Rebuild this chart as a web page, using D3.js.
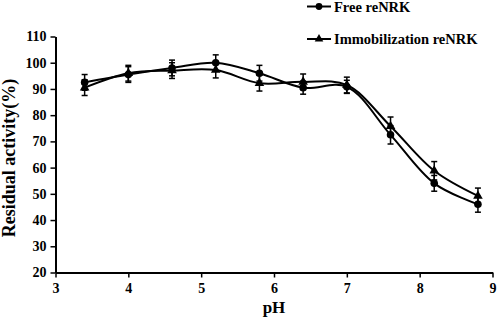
<!DOCTYPE html>
<html><head><meta charset="utf-8">
<script src="https://cdn.jsdelivr.net/npm/d3@7"></script>
<style>body{margin:0;background:#fff}svg{display:block}svg text{font-family:"Liberation Serif","Times New Roman",Times,serif !important;font-weight:bold}</style>
</head><body>
<svg id="c" width="498" height="322"></svg>
<script>
const pH = [3.4, 4.0, 4.6, 5.2, 5.8, 6.4, 7.0, 7.6, 8.2, 8.8];
const freeVals = [92.5, 95.5, 98, 100, 96, 90.5, 90.8, 72.5, 54, 46];
const freeErr = [3, 3, 3, 3, 3, 2.5, 2.5, 3.5, 3, 3];
const immoVals = [90.5, 96, 97, 97.2, 92.2, 92.7, 91.5, 75.8, 58.8, 49.2];
const immoErr = [3, 3, 3, 3, 3, 3, 3, 3.5, 3.5, 3];
const xTicks = [3, 4, 5, 6, 7, 8, 9];
const yTicks = [20, 30, 40, 50, 60, 70, 80, 90, 100, 110];
const seriesNames = ["Free reNRK", "Immobilization reNRK"];

const svg = d3.select("#c");
const x = d3.scaleLinear().domain([3, 9]).range([55.5, 492.5]);
const y = d3.scaleLinear().domain([20, 110]).range([272.5, 36.5]);

// axes
const xAxis = svg.append("g").attr("transform", `translate(0,${y(20)})`)
  .call(d3.axisBottom(x).tickValues(xTicks).tickFormat(d3.format("d")).tickSize(5).tickSizeOuter(0).tickPadding(6));
const yAxis = svg.append("g").attr("transform", `translate(${x(3)},0)`)
  .call(d3.axisLeft(y).tickValues(yTicks).tickFormat(d3.format("d")).tickSize(5).tickSizeOuter(0).tickPadding(4));
[xAxis, yAxis].forEach(a => {
  a.select(".domain").attr("stroke", "#000").attr("stroke-width", 2);
  a.selectAll(".tick line").attr("stroke", "#000").attr("stroke-width", 1.5);
  a.selectAll("text").attr("font-size", 14).attr("fill", "#000");
});

// axis titles
svg.append("text").attr("x", x(6)).attr("y", 313).attr("text-anchor", "middle")
  .attr("font-size", 17).text("pH");
svg.append("text").attr("transform", `translate(15,158) rotate(-90)`)
  .attr("text-anchor", "middle").attr("font-size", 18).text("Residual activity(%)");

const line = d3.line().x(d => x(d[0])).y(d => y(d[1])).curve(d3.curveCatmullRom.alpha(0.5));
const series = [
  {vals: freeVals, err: freeErr, shape: d3.symbolCircle},
  {vals: immoVals, err: immoErr, shape: d3.symbolTriangle}
];
const sizes = [45, 40];
series.forEach((s, i) => {
  const pts = pH.map((p, j) => [p, s.vals[j]]);
  svg.append("path").attr("d", line(pts)).attr("fill", "none").attr("stroke", "#000").attr("stroke-width", 2);
  const g = svg.append("g");
  pts.forEach((p, j) => {
    const cx = x(p[0]), top = y(p[1] + s.err[j]), bot = y(p[1] - s.err[j]);
    g.append("line").attr("x1", cx).attr("x2", cx).attr("y1", top).attr("y2", bot).attr("stroke", "#000").attr("stroke-width", 1.5);
    g.append("line").attr("x1", cx - 3).attr("x2", cx + 3).attr("y1", top).attr("y2", top).attr("stroke", "#000").attr("stroke-width", 1.5);
    g.append("line").attr("x1", cx - 3).attr("x2", cx + 3).attr("y1", bot).attr("y2", bot).attr("stroke", "#000").attr("stroke-width", 1.5);
  });
  g.selectAll("path.m").data(pts).enter().append("path").attr("class", "m")
    .attr("d", d3.symbol().type(s.shape).size(sizes[i]))
    .attr("transform", d => `translate(${x(d[0])},${y(d[1])})`).attr("fill", "#000");
});

// legend
const legY = [6.5, 39];
series.forEach((s, i) => {
  svg.append("line").attr("x1", 307).attr("x2", 331).attr("y1", legY[i]).attr("y2", legY[i])
    .attr("stroke", "#000").attr("stroke-width", 2);
  svg.append("path").attr("d", d3.symbol().type(s.shape).size(sizes[i] * 0.8)())
    .attr("transform", `translate(319,${legY[i]})`).attr("fill", "#000");
  svg.append("text").attr("x", 334).attr("y", legY[i] + 5)
    .attr("font-size", 14.5).text(seriesNames[i]);
});
</script>
</body></html>
